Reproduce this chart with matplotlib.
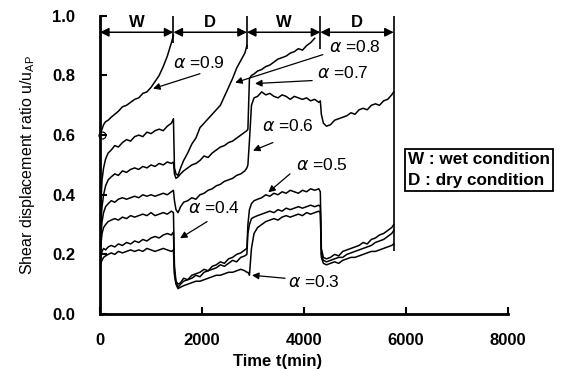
import matplotlib
matplotlib.use("Agg")
import matplotlib.pyplot as plt

plt.rcParams['font.family'] = ['Liberation Sans', 'DejaVu Sans']
plt.rcParams['mathtext.fontset'] = 'dejavusans'

# time grids (min) for each wet / dry period
t_w1 = [0, 15, 40, 70, 110, 160, 220, 290, 360, 440, 520, 600, 680, 760, 840,
        920, 1000, 1080, 1160, 1240, 1320, 1400, 1440]
t_d1 = [1460, 1490, 1530, 1580, 1640, 1720, 1800, 1880, 1960, 2040, 2120, 2200,
        2280, 2360, 2440, 2520, 2600, 2680, 2760, 2840, 2880]
t_w2 = [2900, 2930, 2970, 3020, 3090, 3170, 3250, 3330, 3410, 3490, 3570, 3650,
        3730, 3810, 3890, 3970, 4050, 4130, 4210, 4290, 4320]
t_d2 = [4340, 4380, 4440, 4520, 4600, 4680, 4760, 4840, 4920, 5000, 5080, 5160,
        5240, 5320, 5400, 5480, 5560, 5640, 5720, 5760]

# shear displacement ratio
u09 = [0.58, 0.61, 0.62, 0.635, 0.645, 0.65, 0.66, 0.67, 0.68, 0.695, 0.70, 0.71,
       0.72, 0.725, 0.74, 0.745, 0.76, 0.78, 0.80, 0.83, 0.865, 0.91, 0.935]

u08 = [0.20, 0.36, 0.45, 0.49, 0.52, 0.54, 0.55, 0.565, 0.56, 0.575, 0.585, 0.58,
       0.595, 0.60, 0.595, 0.61, 0.605, 0.615, 0.62, 0.615, 0.63, 0.64, 0.655,
       0.49, 0.47, 0.465, 0.49, 0.515, 0.54, 0.57, 0.59, 0.625, 0.64, 0.655, 0.67,
       0.685, 0.70, 0.73, 0.76, 0.79, 0.825, 0.85, 0.875, 0.90]

u07 = [0.20, 0.30, 0.36, 0.40, 0.43, 0.45, 0.46, 0.47, 0.465, 0.48, 0.475, 0.485,
       0.49, 0.485, 0.495, 0.49, 0.50, 0.495, 0.505, 0.50, 0.51, 0.505, 0.51,
       0.47, 0.455, 0.46, 0.47, 0.48, 0.49, 0.50, 0.505, 0.515, 0.53, 0.525, 0.54,
       0.55, 0.56, 0.565, 0.575, 0.58, 0.59, 0.60, 0.61, 0.615,
       0.62, 0.79, 0.80, 0.805, 0.815, 0.82, 0.83, 0.835, 0.845, 0.855, 0.86,
       0.865, 0.875, 0.88, 0.89, 0.885, 0.90, 0.91, 0.925]

u06 = [0.20, 0.26, 0.31, 0.34, 0.36, 0.37, 0.38, 0.375, 0.385, 0.39, 0.385, 0.39,
       0.395, 0.39, 0.40, 0.395, 0.40, 0.395, 0.40, 0.405, 0.40, 0.41, 0.415,
       0.38, 0.35, 0.34, 0.36, 0.375, 0.38, 0.39, 0.385, 0.40, 0.405, 0.415, 0.42,
       0.43, 0.435, 0.445, 0.45, 0.455, 0.465, 0.47, 0.48, 0.49,
       0.50, 0.58, 0.70, 0.725, 0.73, 0.745, 0.735, 0.74, 0.73, 0.725, 0.735,
       0.73, 0.72, 0.73, 0.725, 0.72, 0.725, 0.715, 0.72, 0.71, 0.715,
       0.67, 0.64, 0.63, 0.635, 0.65, 0.655, 0.66, 0.665, 0.675, 0.67, 0.685,
       0.69, 0.685, 0.70, 0.705, 0.70, 0.715, 0.72, 0.735, 0.745]

u05 = [0.18, 0.23, 0.27, 0.29, 0.30, 0.31, 0.315, 0.32, 0.315, 0.325, 0.32, 0.33,
       0.325, 0.33, 0.335, 0.33, 0.34, 0.33, 0.335, 0.34, 0.335, 0.345, 0.34,
       0.16, 0.11, 0.10, 0.105, 0.12, 0.115, 0.13, 0.135, 0.14, 0.15, 0.145, 0.16,
       0.165, 0.175, 0.17, 0.185, 0.19, 0.20, 0.205, 0.215, 0.22,
       0.30, 0.35, 0.37, 0.38, 0.385, 0.39, 0.40, 0.395, 0.405, 0.40, 0.41,
       0.405, 0.415, 0.41, 0.405, 0.415, 0.41, 0.42, 0.415, 0.42, 0.41,
       0.22, 0.19, 0.185, 0.19, 0.20, 0.195, 0.21, 0.215, 0.22, 0.225, 0.23,
       0.24, 0.235, 0.25, 0.255, 0.265, 0.27, 0.28, 0.29, 0.30]

u04 = [0.17, 0.19, 0.21, 0.22, 0.215, 0.225, 0.23, 0.225, 0.235, 0.23, 0.24, 0.235,
       0.245, 0.24, 0.25, 0.245, 0.255, 0.26, 0.255, 0.265, 0.27, 0.265, 0.275,
       0.14, 0.105, 0.09, 0.10, 0.11, 0.115, 0.12, 0.13, 0.125, 0.14, 0.145, 0.15,
       0.155, 0.165, 0.16, 0.17, 0.18, 0.175, 0.19, 0.195, 0.20,
       0.27, 0.30, 0.32, 0.325, 0.33, 0.335, 0.34, 0.345, 0.34, 0.35, 0.345,
       0.355, 0.35, 0.355, 0.36, 0.355, 0.36, 0.365, 0.36, 0.365, 0.36,
       0.20, 0.18, 0.175, 0.18, 0.185, 0.19, 0.19, 0.20, 0.205, 0.21, 0.215,
       0.22, 0.225, 0.23, 0.24, 0.245, 0.25, 0.26, 0.27, 0.28]

u03 = [0.15, 0.17, 0.18, 0.19, 0.195, 0.20, 0.205, 0.20, 0.21, 0.205, 0.21, 0.215,
       0.21, 0.215, 0.21, 0.22, 0.215, 0.21, 0.215, 0.22, 0.215, 0.21, 0.215,
       0.13, 0.10, 0.085, 0.09, 0.095, 0.10, 0.105, 0.11, 0.11, 0.115, 0.12, 0.125,
       0.13, 0.13, 0.135, 0.14, 0.14, 0.145, 0.15, 0.145, 0.14,
       0.14, 0.13, 0.22, 0.27, 0.29, 0.30, 0.31, 0.315, 0.32, 0.315, 0.325,
       0.33, 0.325, 0.33, 0.335, 0.33, 0.34, 0.335, 0.34, 0.345, 0.34,
       0.19, 0.17, 0.165, 0.17, 0.175, 0.17, 0.18, 0.185, 0.19, 0.19, 0.195,
       0.20, 0.205, 0.21, 0.21, 0.215, 0.22, 0.225, 0.23, 0.235]

# period boundaries and the lower end of their marker lines
bounds = [1440, 2880, 4320, 5760]
bound_low = [0.91, 0.89, 0.89, 0.21]
periods = ['W', 'D', 'W', 'D']

fig = plt.figure(figsize=(5.64, 3.69), dpi=100)
ax = fig.add_axes([0.1773, 0.149, 0.7234, 0.808])

t_all = t_w1 + t_d1 + t_w2 + t_d2
ax.plot(t_w1, u09, color='black', lw=1.1)
ax.plot(t_w1[0] + 30, 0.60, 'o', mfc='none', mec='black', ms=5, mew=0.9,
        clip_on=False)
ax.plot(t_w1 + t_d1, u08, color='black', lw=1.1)
ax.plot(t_w1 + t_d1 + t_w2[:19], u07, color='black', lw=1.1)
for u in [u06, u05, u04, u03]:
    ax.plot(t_all, u, color='black', lw=1.1)

# period markers along the top
starts = [0] + bounds[:-1]
for s, e, lab in zip(starts, bounds, periods):
    ax.annotate('', xy=(e, 0.945), xytext=(s, 0.945),
                arrowprops=dict(arrowstyle='<|-|>', color='black', lw=1.1,
                                mutation_scale=13, shrinkA=0, shrinkB=0))
    ax.text((s + e) / 2, 0.978, lab, ha='center', va='center',
            fontsize=12, fontweight='bold')
ax.vlines(bounds, bound_low, 1.0, color='black', lw=1.2)

# alpha labels
alpha_labels = ['0.9', '0.8', '0.7', '0.6', '0.5', '0.4', '0.3']
label_xy = [(1430, 0.843), (4490, 0.896), (4260, 0.81), (3170, 0.63),
            (3850, 0.50), (1720, 0.355), (3690, 0.107)]
tail_xy = [(1960, 0.806), (4370, 0.87), (4160, 0.783), (3390, 0.575),
           (3725, 0.47), (2100, 0.31), (3630, 0.12)]
tip_xy = [(1040, 0.756), (2650, 0.776), (3040, 0.773), (3000, 0.548),
          (3300, 0.408), (1570, 0.254), (2980, 0.13)]
for a, lxy, txy, pxy in zip(alpha_labels, label_xy, tail_xy, tip_xy):
    ax.text(lxy[0], lxy[1], r'$\alpha$ =' + a, ha='left', va='center',
            fontsize=12.5)
    ax.annotate('', xy=pxy, xytext=txy,
                arrowprops=dict(arrowstyle='-|>', color='black', lw=0.9,
                                mutation_scale=10, shrinkA=0, shrinkB=0))

ax.set_xlim(0, 8000)
ax.set_ylim(0, 1.0)
ax.set_xticks([0, 2000, 4000, 6000, 8000])
ax.set_yticks([0.0, 0.2, 0.4, 0.6, 0.8, 1.0])
ax.set_yticklabels(['0.0', '0.2', '0.4', '0.6', '0.8', '1.0'])
ax.tick_params(direction='in', length=5, width=1.5, labelsize=12)
ax.tick_params(axis='x', pad=14)
ax.tick_params(axis='y', pad=18)
for lab in ax.get_xticklabels() + ax.get_yticklabels():
    lab.set_fontweight('bold')
for side in ['top', 'right']:
    ax.spines[side].set_visible(False)
for side in ['left', 'bottom']:
    ax.spines[side].set_linewidth(2)

ax.set_xlabel('Time t(min)', fontsize=12, fontweight='bold')
ax.xaxis.set_label_coords(0.434, -0.135)
ax.set_ylabel(r'Shear displacement ratio u/u$_{\mathregular{AP}}$', fontsize=11.5)
ax.yaxis.set_label_coords(-0.155, 0.50)

fig.text(408 / 564, 1 - 170 / 369, 'W : wet condition\nD : dry condition',
         ha='left', va='center', fontsize=12.3, fontweight='bold', linespacing=1.5,
         bbox=dict(boxstyle='square,pad=0.2', fc='white', ec='black', lw=1.3))

fig.savefig('out.png', dpi=100)
